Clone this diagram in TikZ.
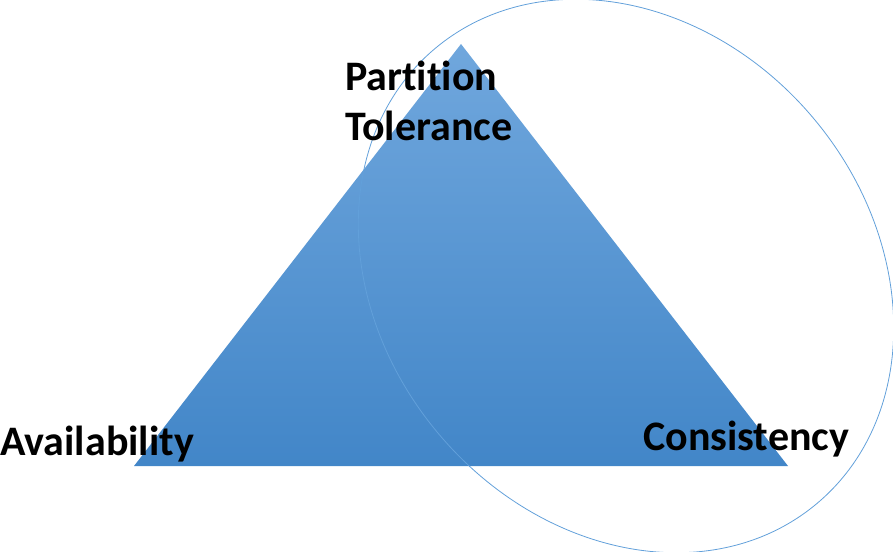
\documentclass[tikz,border=0pt]{standalone}
\usepackage{fontspec}
\setmainfont{Carlito}[Ligatures={NoCommon}]
\begin{document}
\begin{tikzpicture}[x=1pt,y=-1pt,
  lbl/.style={font=\fontsize{42}{50}\selectfont\bfseries, inner sep=0pt, anchor=base west, text=black},
  ringline/.style={draw={rgb,255:red,98;green,160;blue,218}, line width=0.8pt}]
\useasboundingbox (0,0) rectangle (893,551);
\clip (0,0) rectangle (893,551);
% triangle
\coordinate (apex) at (461,44);
\coordinate (bl) at (134,466);
\coordinate (br) at (788,466);
\shade[top color={rgb,255:red,112;green,167;blue,221}, bottom color={rgb,255:red,66;green,134;blue,200}]
  (apex) -- (br) -- (bl) -- cycle;
% ellipse
\coordinate (ec) at (626,276);
\draw[ringline, rotate around={-50:(ec)}] (ec) ellipse [x radius=297, y radius=245];
% labels
\node[lbl] (pt1) at (345,90) {Partition};
\node[lbl] (pt2) at (345,140) {Tolerance};
\node[lbl] (av) at (0,455) {Availability};
\node[lbl] (co) at (643,450) {Consistency};
\end{tikzpicture}
\end{document}
